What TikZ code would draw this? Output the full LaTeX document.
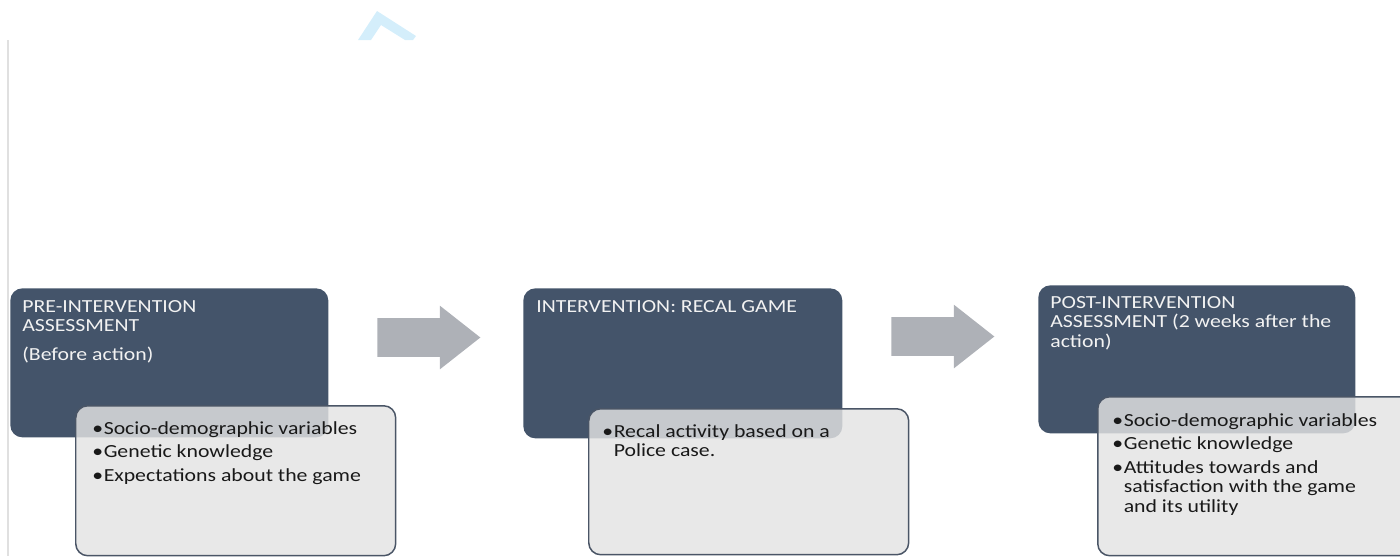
\documentclass[tikz,border=0pt]{standalone}
\usepackage{fontspec}
\setmainfont{Carlito}[FakeStretch=1.18]
\usetikzlibrary{shapes.arrows}

\definecolor{slate}{HTML}{44546A}
\definecolor{lightbox}{HTML}{E3E3E3}
\definecolor{boxline}{HTML}{4A5566}
\definecolor{arrowgray}{HTML}{AEB1B7}
\definecolor{chevblue}{HTML}{D4EEFB}

% bullet item with hanging indent
\newcommand{\bitem}[1]{{\hangindent=6.5pt\hangafter=1\noindent\makebox[6.5pt][l]{\textbullet}#1\par}}

\begin{document}
\begin{tikzpicture}[x=0.02cm, y=-0.02cm,
    darkbox/.style={fill=slate, rounded corners=0.24cm, anchor=north west, inner sep=0pt},
    lightbox/.style={draw=boxline, line width=0.85pt, fill=lightbox, fill opacity=0.82,
        rounded corners=0.24cm, anchor=north west, inner sep=0pt},
    titletext/.style={anchor=base west, inner sep=0pt, text=white!95!black,
        font=\fontsize{10.5}{11.3}\selectfont},
    itemtext/.style={anchor=base west, inner sep=0pt, text=black!90,
        font=\fontsize{10.5}{11.1}\selectfont},
    blockarrow/.style={single arrow, fill=arrowgray, anchor=tail, inner xsep=0pt, inner ysep=0.38cm,
        minimum height=2.06cm, single arrow head extend=0.25cm,
        single arrow tip angle=76.4, single arrow head indent=0pt}]
    
    % Fix the frame
    \useasboundingbox (0,0) rectangle (1400,556);
    \clip (0,0) rectangle (1400,556);
    
    % Faint page edge and the blue mark at the top
    \draw[black!12, line width=0.6pt] (8,40) -- (8,556);
    \fill[chevblue] (358,40) -- (377,11) -- (416,36) -- (413,40) -- (405,40) -- (381,25) -- (371,40) -- cycle;
    
    % Dark header boxes
    \node[darkbox, minimum width=6.36cm, minimum height=2.98cm] (pre) at (10,288) {};
    \node[darkbox, minimum width=6.38cm, minimum height=3.0cm] (mid) at (523,288) {};
    \node[darkbox, minimum width=6.34cm, minimum height=2.96cm] (post) at (1038,285) {};
    
    % Block arrows between the stages
    \node[blockarrow] (arr1) at (377,337.5) {};
    \node[blockarrow] (arr2) at (891,336.5) {};
    
    % Header texts
    \node[titletext] (preT) at (22,312) {\parbox[t]{6cm}{PRE-INTERVENTION\\ASSESSMENT\\[5pt](Before action)}};
    \node[titletext] (midT) at (536,312) {\parbox[t]{6cm}{INTERVENTION: RECAL GAME}};
    \node[titletext] (postT) at (1050,308) {\parbox[t]{6cm}{POST-INTERVENTION\\ASSESSMENT (2 weeks after the\\action)}};
    
    % Light detail boxes (drawn over the dark ones)
    \node[lightbox, minimum width=6.4cm, minimum height=3.0cm] (preL) at (75,405) {};
    \node[lightbox, minimum width=6.4cm, minimum height=2.92cm] (midL) at (588,408) {};
    \node[lightbox, minimum width=6.4cm, minimum height=3.18cm] (postL) at (1097,396) {};
    
    % Bullet lists
    \node[itemtext] (preI) at (92,434) {\parbox[t]{6cm}{\raggedright
        \bitem{Socio-demographic variables}\vspace{2.3pt}
        \bitem{Genetic knowledge}\vspace{2.3pt}
        \bitem{Expectations about the game}}};
    \node[itemtext] (midI) at (602,437) {\parbox[t]{6cm}{\raggedright
        \bitem{Recal activity based on a\newline Police case.}}};
    \node[itemtext] (postI) at (1112,426) {\parbox[t]{6cm}{\raggedright
        \bitem{Socio-demographic variables}\vspace{2.3pt}
        \bitem{Genetic knowledge}\vspace{2.3pt}
        \bitem{Attitudes towards and\newline satisfaction with the game\newline and its utility}}};
\end{tikzpicture}
\end{document}
